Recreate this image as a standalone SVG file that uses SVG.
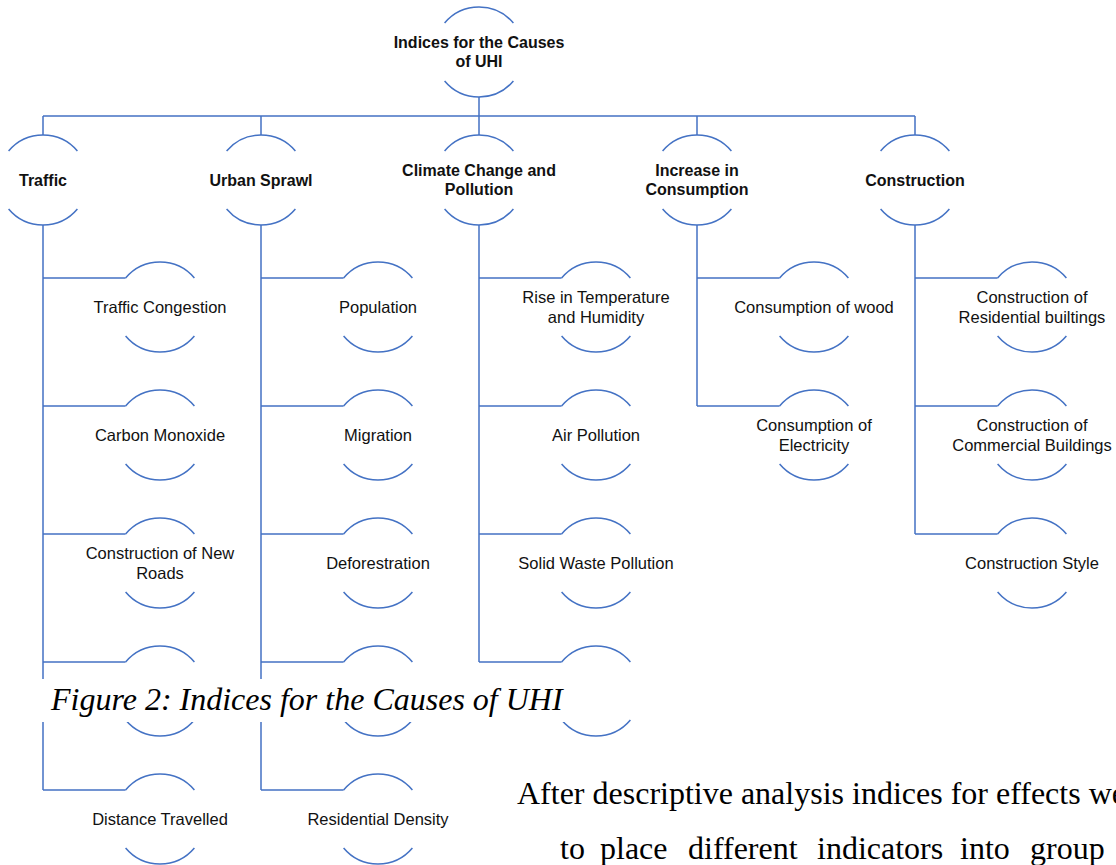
<svg xmlns="http://www.w3.org/2000/svg" xmlns:xlink="http://www.w3.org/1999/xlink" width="1116" height="865" viewBox="0 0 1116 865">
<style>
.ln{fill:none;stroke:#4472C4;stroke-width:1.5}
.t1{font-family:"Liberation Sans",Arial,sans-serif;font-size:16px;font-weight:bold;fill:#111;text-anchor:middle}
.t2{font-family:"Liberation Sans",Arial,sans-serif;font-size:16.5px;fill:#111;text-anchor:middle}
.cap{font-family:"Liberation Serif","Times New Roman",serif;font-size:32px;font-style:italic;fill:#000}
.body{font-family:"Liberation Serif","Times New Roman",serif;font-size:32px;fill:#000}
</style>
<defs>
<path id="arcs" class="ln" d="M-34.4 -29 A45 45 0 0 1 34.4 -29 M-34.4 29 A45 45 0 0 0 34.4 29"/>
</defs>
<rect width="1116" height="865" fill="#fff"/>
<g id="connectors" class="ln">
<path d="M479 97 V135 M43 116 H915 M43 116 V135 M261 116 V135 M697 116 V135 M915 116 V135"/>
<path d="M43 225 V790 M261 225 V790 M479 225 V662 M697 225 V406 M915 225 V534"/>
<path d="M43 278 H125.6 M43 406 H125.6 M43 534 H125.6 M43 662 H125.6 M43 790 H125.6"/>
<path d="M261 278 H343.6 M261 406 H343.6 M261 534 H343.6 M261 662 H343.6 M261 790 H343.6"/>
<path d="M479 278 H561.6 M479 406 H561.6 M479 534 H561.6 M479 662 H561.6"/>
<path d="M697 278 H779.6 M697 406 H779.6"/>
<path d="M915 278 H997.6 M915 406 H997.6 M915 534 H997.6"/>
</g>
<g id="root"><use xlink:href="#arcs" x="479" y="52"/><text class="t1" x="479" y="48">Indices for the Causes</text><text class="t1" x="479" y="67">of UHI</text></g>
<g id="traffic"><use xlink:href="#arcs" x="43" y="180"/><text class="t1" x="43" y="186">Traffic</text></g>
<g id="urban-sprawl"><use xlink:href="#arcs" x="261" y="180"/><text class="t1" x="261" y="186">Urban Sprawl</text></g>
<g id="climate"><use xlink:href="#arcs" x="479" y="180"/><text class="t1" x="479" y="176">Climate Change and</text><text class="t1" x="479" y="195">Pollution</text></g>
<g id="consumption"><use xlink:href="#arcs" x="697" y="180"/><text class="t1" x="697" y="176">Increase in</text><text class="t1" x="697" y="195">Consumption</text></g>
<g id="construction"><use xlink:href="#arcs" x="915" y="180"/><text class="t1" x="915" y="186">Construction</text></g>

<g id="traffic-congestion"><use xlink:href="#arcs" x="160" y="307"/><text class="t2" x="160" y="313">Traffic Congestion</text></g>
<g id="carbon-monoxide"><use xlink:href="#arcs" x="160" y="435"/><text class="t2" x="160" y="441">Carbon Monoxide</text></g>
<g id="new-roads"><use xlink:href="#arcs" x="160" y="563"/><text class="t2" x="160" y="559">Construction of New</text><text class="t2" x="160" y="579">Roads</text></g>
<g id="traffic-4"><use xlink:href="#arcs" x="160" y="691"/></g>
<g id="distance"><use xlink:href="#arcs" x="160" y="819"/><text class="t2" x="160" y="825">Distance Travelled</text></g>

<g id="population"><use xlink:href="#arcs" x="378" y="307"/><text class="t2" x="378" y="313">Population</text></g>
<g id="migration"><use xlink:href="#arcs" x="378" y="435"/><text class="t2" x="378" y="441">Migration</text></g>
<g id="deforestration"><use xlink:href="#arcs" x="378" y="563"/><text class="t2" x="378" y="569">Deforestration</text></g>
<g id="sprawl-4"><use xlink:href="#arcs" x="378" y="691"/></g>
<g id="residential-density"><use xlink:href="#arcs" x="378" y="819"/><text class="t2" x="378" y="825">Residential Density</text></g>

<g id="temperature"><use xlink:href="#arcs" x="596" y="307"/><text class="t2" x="596" y="303">Rise in Temperature</text><text class="t2" x="596" y="323">and Humidity</text></g>
<g id="air-pollution"><use xlink:href="#arcs" x="596" y="435"/><text class="t2" x="596" y="441">Air Pollution</text></g>
<g id="solid-waste"><use xlink:href="#arcs" x="596" y="563"/><text class="t2" x="596" y="569">Solid Waste Pollution</text></g>
<g id="climate-4"><use xlink:href="#arcs" x="596" y="691"/></g>

<g id="wood"><use xlink:href="#arcs" x="814" y="307"/><text class="t2" x="814" y="313">Consumption of wood</text></g>
<g id="electricity"><use xlink:href="#arcs" x="814" y="435"/><text class="t2" x="814" y="431">Consumption of</text><text class="t2" x="814" y="451">Electricity</text></g>

<g id="residential"><use xlink:href="#arcs" x="1032" y="307"/><text class="t2" x="1032" y="303">Construction of</text><text class="t2" x="1032" y="323">Residential builtings</text></g>
<g id="commercial"><use xlink:href="#arcs" x="1032" y="435"/><text class="t2" x="1032" y="431">Construction of</text><text class="t2" x="1032" y="451">Commercial Buildings</text></g>
<g id="style"><use xlink:href="#arcs" x="1032" y="563"/><text class="t2" x="1032" y="569">Construction Style</text></g>

<g id="caption">
<rect x="36" y="679" width="560" height="43" fill="#fff"/>
<text class="cap" x="51" y="710">Figure 2: Indices for the Causes of UHI</text>
</g>
<g id="body-text">
<text class="body" x="517" y="804">After descriptive analysis indices for effects we</text>
<text class="body" y="859"><tspan x="560">to</tspan><tspan x="600">place</tspan><tspan x="688">different</tspan><tspan x="817">indicators</tspan><tspan x="960">into</tspan><tspan x="1030">group</tspan></text>
</g>
</svg>
